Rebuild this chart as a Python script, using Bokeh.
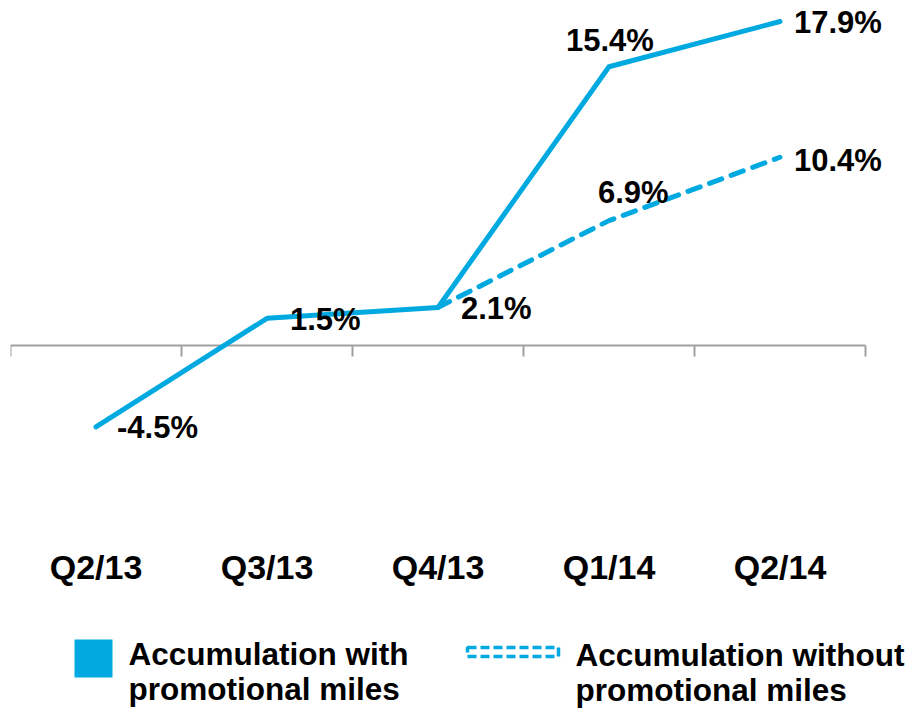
from bokeh.plotting import figure
from bokeh.models import Range1d, FixedTicker, LinearAxis
from bokeh.layouts import column
from bokeh.core.properties import value
from bokeh.embed import file_html
from bokeh.resources import INLINE

# ---------------- data ----------------
categories = ["Q2/13", "Q3/13", "Q4/13", "Q1/14", "Q2/14"]
with_promo = [-4.5, 1.5, 2.1, 15.4, 17.9]
without_promo = [None, None, 2.1, 6.9, 10.4]
with_labels = ["-4.5%", "1.5%", "2.1%", "15.4%", "17.9%"]
without_labels = [None, None, None, "6.9%", "10.4%"]  # Q4/13 value shared with the solid series
legend_labels = ["Accumulation with\npromotional miles",
                 "Accumulation without\npromotional miles"]

# ---------------- styles / layout ----------------
BLUE = "#00A9E0"
GREY = "#A0A0A0"
FONT = "Liberation Sans"

W = 910
H1 = 605
H2 = 106
LEFT = 10
FRAME_H = 545
ZERO_PX = 345
PX_PER_UNIT = 18.1
CAT_PX = 171

with_offsets = [(21, 1), (23, 1), (23, 1), (-43, -26), (14, 1)]
without_offsets = [None, None, None, (-11, -28), (14, 3)]

n = len(categories)
xs = [i + 0.5 for i in range(n)]

p = figure(width=W, height=H1,
           x_range=Range1d(0, (W - LEFT) / CAT_PX),
           y_range=Range1d(-(FRAME_H - ZERO_PX) / PX_PER_UNIT, ZERO_PX / PX_PER_UNIT),
           x_axis_type=None, y_axis_type=None,
           output_backend="svg", toolbar_location=None,
           min_border_left=LEFT, min_border_right=0, min_border_top=0,
           min_border_bottom=H1 - FRAME_H)
p.outline_line_color = None
p.background_fill_color = "white"
p.border_fill_color = "white"

ax = LinearAxis(ticker=FixedTicker(ticks=xs),
                major_label_overrides={x: c for x, c in zip(xs, categories)},
                axis_line_color=None, major_tick_line_color=None,
                minor_tick_line_color=None, major_tick_out=0, major_tick_in=0,
                major_label_standoff=2,
                major_label_text_font=FONT, major_label_text_font_size="34px",
                major_label_text_font_style="bold", major_label_text_color="black")
p.add_layout(ax, "below")

# zero line with boundary ticks
bounds = list(range(n + 1))
p.segment(x0=[0], y0=[0], x1=[n], y1=[0], line_color=GREY, line_width=2)
p.segment(x0=bounds, y0=[0] * len(bounds), x1=bounds,
          y1=[-11 / PX_PER_UNIT] * len(bounds), line_color=GREY, line_width=2)

# series
p.line(xs, with_promo, line_color=BLUE, line_width=5, line_join="round", line_cap="round")
wo_x = [x for x, v in zip(xs, without_promo) if v is not None]
wo_y = [v for v in without_promo if v is not None]
p.line(wo_x, wo_y, line_color=BLUE, line_width=5, line_dash="13 10", line_cap="round")

# data labels
lx, ly, lt, ox, oy = [], [], [], [], []
for x, v, t, o in zip(xs, with_promo, with_labels, with_offsets):
    lx.append(x); ly.append(v); lt.append(t); ox.append(o[0]); oy.append(o[1])
for x, v, t, o in zip(xs, without_promo, without_labels, without_offsets):
    if t is None:
        continue
    lx.append(x); ly.append(v); lt.append(t); ox.append(o[0]); oy.append(o[1])
p.text(x=lx, y=ly, text=lt, x_offset=ox, y_offset=oy,
       text_font=value(FONT), text_font_size="31px", text_font_style="bold",
       text_color="black", text_align="left", text_baseline="middle")

# ---------------- legend figure ----------------
p2 = figure(width=W, height=H2, x_range=Range1d(LEFT, W), y_range=Range1d(H2, 0),
            x_axis_type=None, y_axis_type=None,
            output_backend="svg", toolbar_location=None,
            min_border_left=LEFT, min_border_right=0, min_border_top=0, min_border_bottom=0)
p2.outline_line_color = None

p2.rect(x=[93], y=[53], width=38, height=38, fill_color=BLUE, line_color=None)
p2.rect(x=[512.5], y=[46.5], width=91, height=9, fill_color=None,
        line_color=BLUE, line_width=3.5, line_dash="9 4")

text_x = [128, 575]
line1_y = [48, 49]
tx, ty, tt = [], [], []
for lab, x0, y0 in zip(legend_labels, text_x, line1_y):
    for k, line in enumerate(lab.split("\n")):
        tx.append(x0); ty.append(y0 + 35 * k); tt.append(line)
p2.text(x=tx, y=ty, text=tt, text_font=value(FONT), text_font_size="31.5px",
        text_font_style="bold", text_color="black", text_align="left",
        text_baseline="middle")

layout = column(p, p2)
open("out.html", "w").write(file_html(layout, INLINE))
